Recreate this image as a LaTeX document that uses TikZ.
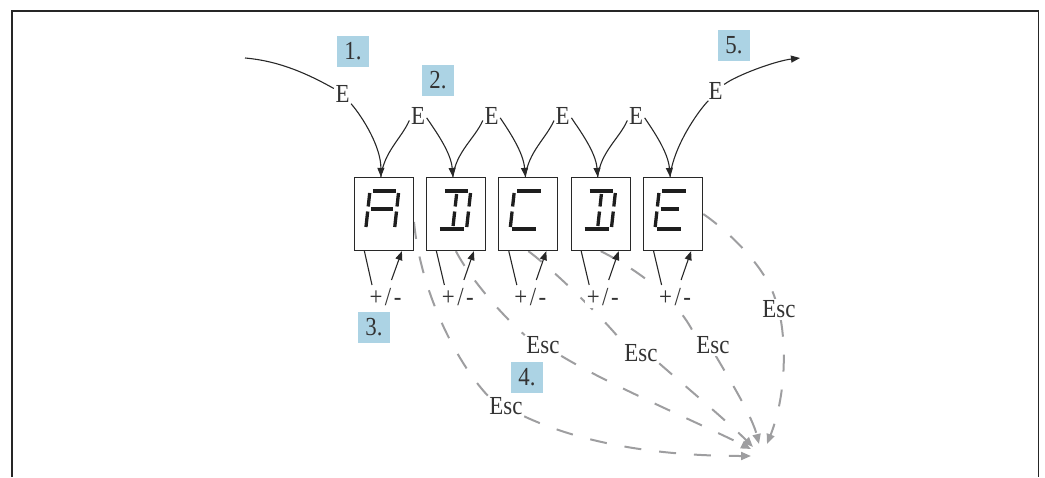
\documentclass[tikz,border=0pt]{standalone}
\usepackage{fontspec}
\setmainfont{Liberation Serif}[FakeStretch=0.88]
\usetikzlibrary{arrows.meta}
\pgfdeclarelayer{bg}
\pgfsetlayers{bg,main}
\definecolor{lblblue}{RGB}{172,211,228}
\definecolor{txt}{RGB}{51,51,51}
\definecolor{ln}{RGB}{40,40,40}
\definecolor{escg}{RGB}{158,158,160}
\definecolor{segc}{RGB}{30,30,30}
\newcommand\dseg[4]{\draw[seg] (#1,#2) -- (#3,#4);}
\newcommand\sTop{\dseg{-13.5}{-23}{10}{-23}}
\newcommand\sBot{\dseg{-14.5}{15}{9.5}{15}}
\newcommand\sMid{\dseg{-13}{-5}{9}{-5}}
\newcommand\sMidE{\dseg{-13}{-5}{5}{-5}}
\newcommand\sLU{\dseg{-16.5}{-21}{-16.5}{-7.5}}
\newcommand\sLL{\dseg{-16.5}{-2.5}{-16.5}{13}}
\newcommand\sRU{\dseg{12.3}{-21}{12.3}{-7.5}}
\newcommand\sRL{\dseg{12.3}{-2.5}{12.3}{13}}
\newcommand\sCU{\dseg{-1.5}{-20}{-1.5}{-7.5}}
\newcommand\sCL{\dseg{-1.5}{-2.5}{-1.5}{12}}
\newcommand\plusminus{+\kern2.5pt/\kern2.5pt-}
\begin{document}
\begin{tikzpicture}[x=1pt,y=-1pt,
  lbl/.style={font=\fontsize{26pt}{30pt}\selectfont, text=txt, inner sep=1.5pt, fill=white},
  numbox/.style={fill=lblblue, minimum width=32pt, minimum height=31pt, inner sep=0pt,
                 font=\fontsize{26pt}{30pt}\selectfont, text=txt},
  dispbox/.style={draw=ln, line width=1.3pt, fill=white, minimum width=59pt, minimum height=73pt, inner sep=0pt},
  conn/.style={draw=ln, line width=1.1pt},
  arr/.style={conn, -{Triangle[length=9pt,width=7pt]}},
  escpath/.style={draw=escg, line width=2pt, dash pattern=on 17pt off 18pt},
  escarr/.style={escpath, -{Triangle[length=10pt,width=8pt]}},
  seg/.style={draw=segc, line width=3.3pt, line cap=butt},
  digit/.style={shift={(#1.center)}, xslant=0.11}
]
\useasboundingbox (0,0) rectangle (1045,477);
\draw[line width=1.5pt, black!85] (12,477) -- (12,11) -- (1038.5,11) -- (1038.5,477);

% display boxes
\node[dispbox] (A) at (383.9,214) {};
\node[dispbox] (B) at (455.9,214) {};
\node[dispbox] (C) at (528.3,214) {};
\node[dispbox] (D) at (600.7,214) {};
\node[dispbox] (E) at (673.1,214) {};

% digits
\begin{scope}[digit=A] \sTop \sLU \sLL \sRU \sRL \sMid \end{scope}
\begin{scope}[digit=B] \sTop \sRU \sRL \sCU \sCL \sBot \end{scope}
\begin{scope}[digit=C] \sTop \sLU \sLL \sBot \end{scope}
\begin{scope}[digit=D] \sTop \sRU \sRL \sCU \sCL \sBot \end{scope}
\begin{scope}[digit=E] \sTop \sLU \sLL \sMidE \sBot \end{scope}

% E labels
\node[lbl] (E1) at (342.5,93.5) {E};
\node[lbl] (E2) at (418,115.5) {E};
\node[lbl] (E3) at (491.5,115.5) {E};
\node[lbl] (E4) at (562.7,115.5) {E};
\node[lbl] (E5) at (636,115.5) {E};
\node[lbl] (E6) at (715.5,90.5) {E};

% +/- labels
\node[lbl] (P1) at (385.5,297.5) {\plusminus};
\node[lbl] (P2) at (457.9,297.5) {\plusminus};
\node[lbl] (P3) at (530.3,297.5) {\plusminus};
\node[lbl] (P4) at (602.7,297.5) {\plusminus};
\node[lbl] (P5) at (675.1,297.5) {\plusminus};

% Esc labels
\node[lbl] (EscA) at (506,406) {Esc};
\node[lbl] (EscB) at (543,345.5) {Esc};
\node[lbl] (EscC) at (641,353) {Esc};
\node[lbl] (EscD) at (713,345.5) {Esc};
\node[lbl] (EscE) at (779,309.5) {Esc};

% step numbers
\node[numbox] (N1) at (353,51.5) {1.};
\node[numbox] (N2) at (438,80.5) {2.};
\node[numbox] (N3) at (374,327.5) {3.};
\node[numbox] (N4) at (527,377.5) {4.};
\node[numbox] (N5) at (734,45.5) {5.};

% free ends
\coordinate (S) at (245,58);
\coordinate (X) at (800,58);
\coordinate (T1) at (751,456);
\coordinate (T2) at (751,449);
\coordinate (T3) at (753,447);
\coordinate (T4) at (759,444);
\coordinate (T5) at (767,444);

% E chain
\draw[conn] (S) .. controls +(35,3) and +(-25,-14) .. (E1.150);
\draw[arr] (E1.-50) .. controls +(12,14) and +(0,-30) .. ([xshift=-3pt]A.north);
\draw[conn] ([xshift=-3pt]A.north) .. controls +(3,-25) and +(-8,18) .. (E2.-150);
\draw[arr] (E2.-15) .. controls +(8,12) and +(-2,-25) .. ([xshift=-3pt]B.north);
\draw[conn] ([xshift=-3pt]B.north) .. controls +(3,-25) and +(-8,18) .. (E3.-150);
\draw[arr] (E3.-15) .. controls +(8,12) and +(-2,-25) .. ([xshift=-3pt]C.north);
\draw[conn] ([xshift=-3pt]C.north) .. controls +(3,-25) and +(-8,18) .. (E4.-150);
\draw[arr] (E4.-15) .. controls +(8,12) and +(-2,-25) .. ([xshift=-3pt]D.north);
\draw[conn] ([xshift=-3pt]D.north) .. controls +(3,-25) and +(-8,18) .. (E5.-150);
\draw[arr] (E5.-15) .. controls +(8,12) and +(-2,-25) .. ([xshift=-3pt]E.north);
\draw[conn] ([xshift=-3pt]E.north) .. controls +(3,-30) and +(-10,10) .. (E6.-125);
\draw[arr] (E6.35) .. controls +(12,-9) and +(-25,3) .. (X);

% +/- loops
\foreach \b/\p in {A/P1,B/P2,C/P3,D/P4,E/P5}{
  \draw[conn] ([xshift=-19.5pt]\b.south) -- ([shift={(-13.5,-12.5)}]\p.center);
  \draw[arr] ([shift={(6,-17.5)}]\p.center) -- ([xshift=18pt]\b.south);
}

% Esc paths (behind labels)
\begin{pgfonlayer}{bg}
\draw[escpath] ([yshift=-8pt]A.east) .. controls +(6,68) and +(-32,-34) .. (EscA.north west);
\draw[escarr] (EscA.south east) .. controls +(60,28) and +(-90,0) .. (T1);
\draw[escpath] (B.south) .. controls +(13,25) and +(-27,-24) .. (EscB.north west);
\draw[escarr] (EscB.south east) .. controls +(48,29) and +(-52,-26) .. (T2);
\draw[escpath] (C.south) .. controls +(17,12) and +(-22,-28) .. (EscC.north west);
\draw[escarr] (EscC.south east) .. controls +(25,22) and +(-25,-25) .. (T3);
\draw[escpath] (D.south) .. controls +(30,15) and +(-19,-40) .. (EscD.north west);
\draw[escarr] (EscD.-75) .. controls +(14,24) and +(-7,-28) .. (T4);
\draw[escpath] (E.east) .. controls +(22,15) and +(-10,-34) .. (EscE.110);
\draw[escarr] (EscE.-80) .. controls +(6,36) and +(17,-43) .. (T5);
\end{pgfonlayer}
\end{tikzpicture}
\end{document}
